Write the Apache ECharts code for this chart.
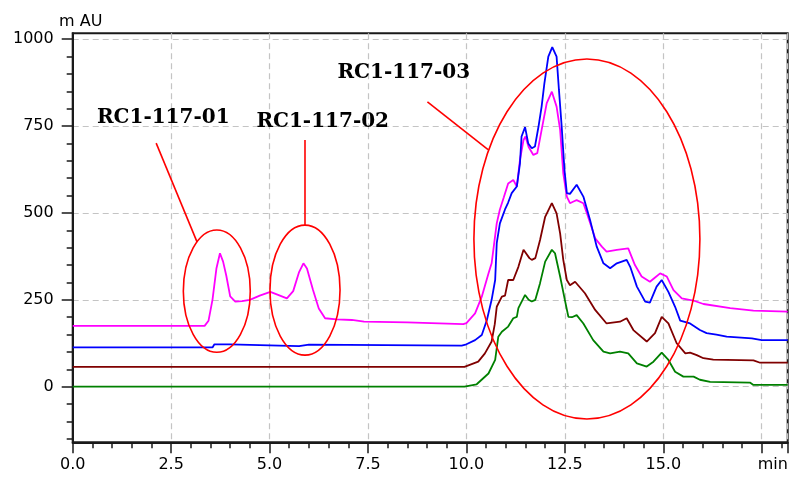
<!DOCTYPE html>
<html><head><meta charset="utf-8">
<script src="https://cdn.jsdelivr.net/npm/echarts@6/dist/echarts.min.js"></script>
<style>html,body{margin:0;padding:0;background:#fff}#c{width:793px;height:479px}</style>
</head><body><div id="c"></div>
<script>
// ---- data: [time (min), absorbance (mAU)] ----
const magentaTrace = [[0,175],[3.35,175],[3.45,190],[3.55,250],[3.65,340],[3.74,384],[3.82,360],[3.9,320],[4.0,260],[4.13,245],[4.3,246],[4.5,250],[4.75,262],[5.02,273],[5.2,265],[5.44,254],[5.6,275],[5.75,330],[5.86,355],[5.95,340],[6.1,280],[6.25,225],[6.41,197],[6.7,194],[7.09,192],[7.4,187],[8.5,185],[8.55,180],[9.92,180],[10.0,183],[10.22,211],[10.39,259],[10.56,326],[10.64,355],[10.77,470],[10.85,510],[10.95,545],[11.06,585],[11.19,595],[11.28,576],[11.36,653],[11.45,710],[11.5,720],[11.58,690],[11.7,667],[11.8,672],[11.91,739],[12.04,816],[12.17,849],[12.29,806],[12.38,739],[12.46,614],[12.55,547],[12.63,528],[12.72,533],[12.8,537],[12.97,528],[13.06,499],[13.27,427],[13.44,403],[13.56,389],[13.82,394],[14.11,398],[14.28,350],[14.45,317],[14.66,302],[14.8,315],[14.92,326],[15.09,317],[15.26,278],[15.47,254],[15.76,248],[16.02,238],[16.7,226],[17.29,219],[18.16,216]];
const blueTrace = [[0,113],[3.55,113],[3.6,122],[4.0,122],[4.05,117],[5.75,117],[5.8,121],[6.0,121],[6.05,117],[9.88,118],[10.0,122],[10.22,134],[10.39,149],[10.52,192],[10.64,250],[10.73,307],[10.77,413],[10.85,470],[10.98,510],[11.06,530],[11.15,557],[11.28,576],[11.36,643],[11.4,720],[11.49,747],[11.57,700],[11.66,686],[11.74,691],[11.83,748],[11.91,806],[11.98,873],[12.08,950],[12.18,977],[12.29,950],[12.35,854],[12.42,748],[12.49,624],[12.55,557],[12.63,555],[12.8,581],[12.97,547],[13.14,480],[13.31,403],[13.48,355],[13.65,341],[13.82,355],[14.07,365],[14.16,345],[14.33,288],[14.54,245],[14.66,242],[14.83,288],[14.96,307],[15.13,273],[15.3,230],[15.43,190],[15.68,182],[15.93,163],[16.1,154],[16.35,150],[16.61,144],[17.25,139],[17.5,134],[18.16,134]];
const brownTrace = [[0,57],[9.95,57],[10.0,60],[10.3,72],[10.47,96],[10.64,130],[10.72,180],[10.77,230],[10.9,259],[10.98,262],[11.06,307],[11.19,307],[11.32,345],[11.45,394],[11.5,398],[11.6,370],[11.66,365],[11.75,370],[11.87,422],[12.0,489],[12.17,528],[12.29,499],[12.38,441],[12.46,365],[12.55,307],[12.63,292],[12.76,302],[13.01,269],[13.27,221],[13.56,182],[13.9,187],[14.07,197],[14.24,163],[14.58,130],[14.79,154],[14.96,201],[15.13,182],[15.34,125],[15.56,96],[15.68,98],[15.85,91],[16.02,82],[16.27,78],[17.29,76],[17.46,69],[18.16,69]];
const greenTrace = [[0,0],[9.95,0],[10.26,7],[10.56,38],[10.73,77],[10.81,144],[10.9,158],[11.06,173],[11.19,197],[11.28,201],[11.32,226],[11.49,264],[11.58,250],[11.66,245],[11.75,250],[11.87,298],[12.0,360],[12.17,394],[12.25,384],[12.38,317],[12.5,250],[12.59,201],[12.68,200],[12.8,206],[12.97,182],[13.22,134],[13.48,101],[13.65,96],[13.9,101],[14.11,96],[14.33,67],[14.58,58],[14.75,72],[14.96,98],[15.13,77],[15.3,43],[15.51,29],[15.6,29],[15.77,29],[15.93,20],[16.19,14],[17.2,12],[17.29,5],[18.16,5]];

const yMajorTicks = [0, 250, 500, 750, 1000];
const yMinorTicks = [-150,-100,-50,0,50,100,150,200,250,300,350,400,450,500,550,600,650,700,750,800,850,900,950,1000];
const xUnitLabel = 'min';
const yUnitLabel = 'm AU';

// annotations in data units
const annoLabels = [['RC1-117-01', 2.30, 773], ['RC1-117-02', 6.35, 763], ['RC1-117-03', 8.41, 902]];
const annoEllipses = [[3.66, 275, 0.85, 176], [5.90, 278, 0.89, 187], [13.06, 425, 2.87, 518]];
const annoLines = [[[2.12, 701], [3.16, 416]], [[5.90, 710], [5.90, 465]], [[9.01, 820], [10.55, 682]]];

const chart = echarts.init(document.getElementById('c'), null, {renderer: 'canvas'});
const axisColor = '#1a1a1a';
const gridDash = {color: '#c4c4c4', width: 1.2, type: [6, 4]};
const labelFont = {fontFamily: 'DejaVu Sans', fontSize: 16, color: '#000'};

function mkSeries(data, color, extra) {
  return Object.assign({
    type: 'line', data: data, showSymbol: false, symbol: 'none',
    lineStyle: {color: color, width: 1.8}, itemStyle: {color: color},
    yAxisIndex: 0, animation: false, silent: true
  }, extra || {});
}

chart.setOption({
  animation: false,
  backgroundColor: '#fff',
  grid: {left: 72.7, right: 5.3, top: 33.3, bottom: 36.7, show: true, borderColor: axisColor, borderWidth: 2, containLabel: false},
  xAxis: {
    type: 'value', min: 0, max: 18.16, interval: 2.5,
    axisLine: {show: true, onZero: false, lineStyle: {color: axisColor, width: 2}},
    axisTick: {show: true, length: 11, lineStyle: {color: axisColor, width: 1.5}},
    minorTick: {show: true, splitNumber: 5, length: 6, lineStyle: {color: axisColor, width: 1.5}},
    splitLine: {show: true, lineStyle: gridDash},
    axisLabel: Object.assign({margin: 15, showMaxLabel: false, formatter: function (v) {
      if (Math.abs(v - 17.5) < 1e-6) return '{m|' + xUnitLabel + '}';
      if (Math.abs(v / 2.5 - Math.round(v / 2.5)) > 1e-6) return '';
      return v.toFixed(1);
    }, rich: {m: {fontFamily: 'DejaVu Sans', fontSize: 16, color: '#000', padding: [0, 0, 0, 22]}}}, labelFont)
  },
  yAxis: [{
    type: 'value', min: -160, max: 1017, position: 'left',
    name: yUnitLabel, nameLocation: 'end', nameGap: 3,
    nameTextStyle: {fontFamily: 'DejaVu Sans', fontSize: 16, color: '#000', padding: [0, 0, 0, 16]},
    axisLine: {show: true, onZero: false, lineStyle: {color: axisColor, width: 2}},
    axisTick: {show: true, length: 11, customValues: yMajorTicks, lineStyle: {color: axisColor, width: 1.5}},
    axisLabel: Object.assign({margin: 19, customValues: yMajorTicks, formatter: function (v) { return String(v); }}, labelFont),
    splitLine: {show: true, lineStyle: gridDash}
  }, {
    type: 'value', min: -160, max: 1017, position: 'left', offset: 0,
    axisLine: {show: false, onZero: false},
    axisTick: {show: true, length: 6, customValues: yMinorTicks, lineStyle: {color: axisColor, width: 1.5}},
    axisLabel: {show: false},
    splitLine: {show: false}
  }],
  series: [
    mkSeries(magentaTrace, '#ff00ff'),
    mkSeries(blueTrace, '#0000ff'),
    mkSeries(brownTrace, '#800000'),
    mkSeries(greenTrace, '#008000')
  ]
});

function px(t, v) { return chart.convertToPixel({gridIndex: 0}, [t, v]); }
const graphics = [];
annoEllipses.forEach(function (e) {
  const c = px(e[0], e[1]);
  const r = px(e[0] + e[2], e[1] + e[3]);
  graphics.push({type: 'ellipse', z: 50, silent: true,
    shape: {cx: c[0], cy: c[1], rx: Math.abs(r[0] - c[0]), ry: Math.abs(c[1] - r[1])},
    style: {fill: 'none', stroke: '#ff0000', lineWidth: 1.6}});
});
annoLines.forEach(function (l) {
  const a = px(l[0][0], l[0][1]);
  const b = px(l[1][0], l[1][1]);
  graphics.push({type: 'line', z: 50, silent: true,
    shape: {x1: a[0], y1: a[1], x2: b[0], y2: b[1]},
    style: {stroke: '#ff0000', lineWidth: 1.6}});
});
annoLabels.forEach(function (t) {
  const p = px(t[1], t[2]);
  graphics.push({type: 'text', z: 60, silent: true, x: p[0], y: p[1],
    style: {text: t[0], fill: '#000', font: 'bold 20px "DejaVu Serif"', textAlign: 'center', textVerticalAlign: 'middle'}});
});
chart.setOption({graphic: graphics});
</script>
</body></html>
